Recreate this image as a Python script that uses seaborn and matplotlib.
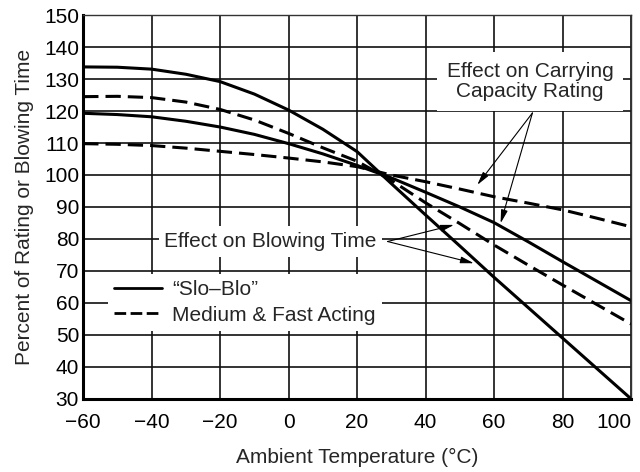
import pandas as pd
import matplotlib
matplotlib.use('Agg')
import matplotlib.pyplot as plt
from matplotlib.lines import Line2D
import seaborn as sns

# Datos
temps = [-60, -50, -40, -30, -20, -10, 0, 10, 20, 30, 40, 50, 60, 70, 80, 90, 100]
slo_blowing = [133.8, 133.7, 133.1, 131.5, 129.2, 125.3, 120.3, 114.3, 107.3, 97.3, 87.5, 77.8, 68.0, 58.5, 49.0, 39.5, 30.0]
slo_carrying = [119.3, 118.9, 118.2, 116.8, 115.0, 112.7, 109.8, 106.6, 103.0, 99.1, 94.6, 90.0, 85.1, 79.1, 72.9, 66.8, 60.7]
fast_blowing = [124.5, 124.6, 124.2, 122.8, 120.5, 117.2, 113.0, 108.5, 104.3, 98.3, 91.3, 84.8, 78.1, 71.8, 65.6, 59.5, 53.4]
fast_carrying = [109.8, 109.6, 109.2, 108.4, 107.4, 106.4, 105.3, 104.1, 102.6, 100.0, 97.9, 95.6, 93.2, 91.2, 89.1, 86.5, 83.8]

x_ticks = [-60, -40, -20, 0, 20, 40, 60, 80, 100]
y_ticks = [30, 40, 50, 60, 70, 80, 90, 100, 110, 120, 130, 140, 150]

curvas = {
    ('Slo-Blo', 'blowing'): slo_blowing,
    ('Slo-Blo', 'carrying'): slo_carrying,
    ('Fast', 'blowing'): fast_blowing,
    ('Fast', 'carrying'): fast_carrying,
}
filas = []
for (fusible, efecto), valores in curvas.items():
    for t, v in zip(temps, valores):
        filas.append({'temp': t, 'pct': v, 'fuse': fusible, 'curve': fusible + efecto})
df = pd.DataFrame(filas)

sns.set_style('white')
plt.rcParams['font.family'] = ['Liberation Sans', 'DejaVu Sans']
fs = 15

fig = plt.figure(figsize=(6.4, 4.72), dpi=100)
ax = fig.add_axes([0.13, 0.155, 0.856, 0.813])

sns.lineplot(data=df, x='temp', y='pct', style='fuse', units='curve', estimator=None,
             color='black', lw=2.2, legend=False, ax=ax,
             dashes={'Slo-Blo': '', 'Fast': (5, 2.3)})

ax.set_xlim(-60, 100)
ax.set_ylim(30, 150)
ax.set_xticks(x_ticks)
ax.set_yticks(y_ticks)
ax.grid(True, color='#111111', lw=1.2)
ax.set_axisbelow(True)
ax.tick_params(length=0, labelsize=fs, colors='black')
ax.tick_params(axis='x', pad=10)
ax.tick_params(axis='y', pad=3)
ax.get_xticklabels()[-1].set_ha('right')

for lado in ['left', 'bottom']:
    ax.spines[lado].set_linewidth(2.2)
    ax.spines[lado].set_color('black')
for lado in ['top', 'right']:
    ax.spines[lado].set_linewidth(1.0)
    ax.spines[lado].set_color('#333333')

ax.set_xlabel('Ambient Temperature (°C)', fontsize=fs, labelpad=12)
ax.set_ylabel('Percent of Rating or Blowing Time', fontsize=fs, labelpad=7)

caja = dict(facecolor='white', edgecolor='none', pad=4)
flecha = dict(arrowstyle='-|>,head_length=0.8,head_width=0.2', color='black', lw=0.8,
              shrinkA=0, shrinkB=0)

ax.text(70.5, 129.2, 'Effect on Carrying\nCapacity Rating', ha='center', va='center',
        fontsize=fs, linespacing=1.1, bbox=dict(facecolor='white', edgecolor='none', pad=7), zorder=3)
ax.annotate('', xy=(55.1, 96.9), xytext=(71.2, 119.4), arrowprops=flecha)
ax.annotate('', xy=(61.9, 84.9), xytext=(71.2, 119.4), arrowprops=flecha)

ax.text(-5.3, 79.2, 'Effect on Blowing Time', ha='center', va='center',
        fontsize=fs, bbox=caja, zorder=3)
ax.annotate('', xy=(48.3, 84.4), xytext=(28.9, 79.2), arrowprops=flecha)
ax.annotate('', xy=(54.1, 72.4), xytext=(28.9, 79.2), arrowprops=flecha)

manejadores = [Line2D([], [], color='black', lw=2.0),
               Line2D([], [], color='black', lw=2.0, linestyle=(0, (4.2, 1.6)))]
ax.legend(manejadores, ['\u201cSlo\u2013Blo\u201d', 'Medium & Fast Acting'],
          loc='upper left', bbox_to_anchor=(0.045, 0.325), borderaxespad=0,
          fontsize=fs, frameon=True, facecolor='white', edgecolor='none',
          framealpha=1, fancybox=False, handlelength=2.3, handletextpad=0.5,
          labelspacing=0.3, borderpad=0.3)

fig.savefig('out.png', dpi=100)
